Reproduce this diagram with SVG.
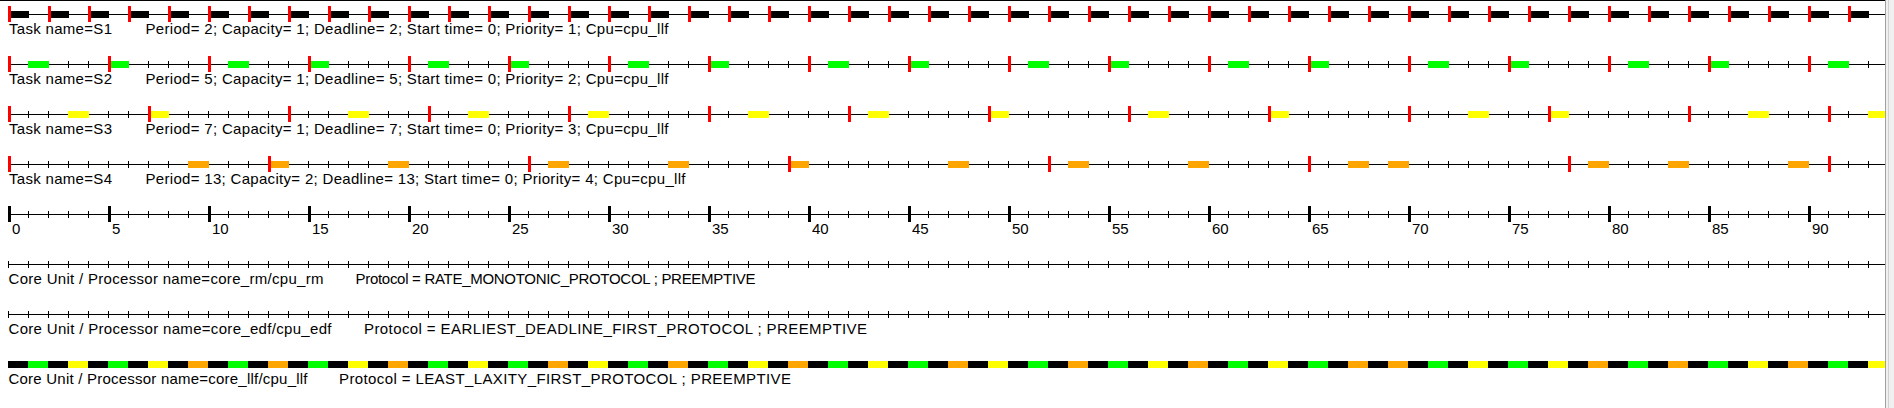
<svg xmlns="http://www.w3.org/2000/svg" width="1894" height="408" viewBox="0 0 1894 408">
<style>
.ln{stroke:#000;stroke-width:1}
.tk{stroke:#000;stroke-width:7;stroke-dasharray:1 19}
.rel{stroke:#f00;stroke-width:16}
.bx{stroke-width:7;fill:none}
.blk{stroke:#000}
.grn{stroke:#0f0}
.yel{stroke:#ff0}
.org{stroke:#ffa500}
.t{font-family:"Liberation Sans",Arial,sans-serif;font-size:15px;fill:#000}
</style>
<rect x="0" y="0" width="1894" height="408" fill="#fff"/>
<line x1="0" y1="0.5" x2="1885" y2="0.5" class="ln"/>
<g id="task-S1">
<line x1="8" y1="14.5" x2="1885" y2="14.5" class="ln"/>
<line x1="8" y1="14.5" x2="1885" y2="14.5" class="tk"/>
<line x1="8" y1="14.5" x2="1885" y2="14.5" class="bx blk" stroke-dasharray="21 19"/>
<line x1="8" y1="14" x2="1885" y2="14" class="rel" stroke-dasharray="3 37"/>
<text x="9" y="34" class="t" textLength="103" lengthAdjust="spacing">Task name=S1</text>
<text x="145.5" y="34" class="t" textLength="523" lengthAdjust="spacing">Period= 2; Capacity= 1; Deadline= 2; Start time= 0; Priority= 1; Cpu=cpu_llf</text>
</g>
<g id="task-S2">
<line x1="8" y1="64.5" x2="1885" y2="64.5" class="ln"/>
<line x1="8" y1="64.5" x2="1885" y2="64.5" class="tk"/>
<path class="bx grn" d="M28 64.5h21M108 64.5h21M228 64.5h21M308 64.5h21M428 64.5h21M508 64.5h21M628 64.5h21M708 64.5h21M828 64.5h21M908 64.5h21M1028 64.5h21M1108 64.5h21M1228 64.5h21M1308 64.5h21M1428 64.5h21M1508 64.5h21M1628 64.5h21M1708 64.5h21M1828 64.5h21"/>
<line x1="8" y1="64" x2="1885" y2="64" class="rel" stroke-dasharray="3 97"/>
<text x="9" y="84" class="t" textLength="103" lengthAdjust="spacing">Task name=S2</text>
<text x="145.5" y="84" class="t" textLength="523" lengthAdjust="spacing">Period= 5; Capacity= 1; Deadline= 5; Start time= 0; Priority= 2; Cpu=cpu_llf</text>
</g>
<g id="task-S3">
<line x1="8" y1="114.5" x2="1885" y2="114.5" class="ln"/>
<line x1="8" y1="114.5" x2="1885" y2="114.5" class="tk"/>
<path class="bx yel" d="M68 114.5h21M148 114.5h21M348 114.5h21M468 114.5h21M588 114.5h21M748 114.5h21M868 114.5h21M988 114.5h21M1148 114.5h21M1268 114.5h21M1468 114.5h21M1548 114.5h21M1748 114.5h21M1868 114.5h17"/>
<line x1="8" y1="114" x2="1885" y2="114" class="rel" stroke-dasharray="3 137"/>
<text x="9" y="134" class="t" textLength="103" lengthAdjust="spacing">Task name=S3</text>
<text x="145.5" y="134" class="t" textLength="523" lengthAdjust="spacing">Period= 7; Capacity= 1; Deadline= 7; Start time= 0; Priority= 3; Cpu=cpu_llf</text>
</g>
<g id="task-S4">
<line x1="8" y1="164.5" x2="1885" y2="164.5" class="ln"/>
<line x1="8" y1="164.5" x2="1885" y2="164.5" class="tk"/>
<path class="bx org" d="M188 164.5h21M268 164.5h21M388 164.5h21M548 164.5h21M668 164.5h21M788 164.5h21M948 164.5h21M1068 164.5h21M1188 164.5h21M1348 164.5h21M1388 164.5h21M1588 164.5h21M1668 164.5h21M1788 164.5h21"/>
<line x1="8" y1="164" x2="1885" y2="164" class="rel" stroke-dasharray="3 257"/>
<text x="9" y="184" class="t" textLength="103" lengthAdjust="spacing">Task name=S4</text>
<text x="145.5" y="184" class="t" textLength="540" lengthAdjust="spacing">Period= 13; Capacity= 2; Deadline= 13; Start time= 0; Priority= 4; Cpu=cpu_llf</text>
</g>
<g id="time-axis">
<line x1="8" y1="214.5" x2="1885" y2="214.5" class="ln"/>
<line x1="8" y1="214.5" x2="1885" y2="214.5" class="tk"/>
<line x1="8" y1="214" x2="1885" y2="214" stroke="#000" stroke-width="16" stroke-dasharray="3 97"/>
<g class="t">
<text x="12" y="234">0</text><text x="112" y="234">5</text><text x="212" y="234">10</text><text x="312" y="234">15</text><text x="412" y="234">20</text><text x="512" y="234">25</text><text x="612" y="234">30</text><text x="712" y="234">35</text><text x="812" y="234">40</text><text x="912" y="234">45</text><text x="1012" y="234">50</text><text x="1112" y="234">55</text><text x="1212" y="234">60</text><text x="1312" y="234">65</text><text x="1412" y="234">70</text><text x="1512" y="234">75</text><text x="1612" y="234">80</text><text x="1712" y="234">85</text><text x="1812" y="234">90</text>
</g>
</g>
<g id="core-rm">
<line x1="8" y1="264.5" x2="1885" y2="264.5" class="ln"/>
<line x1="8" y1="264.5" x2="1885" y2="264.5" class="tk"/>
<text x="8.5" y="284" class="t" textLength="315" lengthAdjust="spacing">Core Unit / Processor name=core_rm/cpu_rm</text>
<text x="355.5" y="284" class="t" textLength="400" lengthAdjust="spacing">Protocol = RATE_MONOTONIC_PROTOCOL ; PREEMPTIVE</text>
</g>
<g id="core-edf">
<line x1="8" y1="314.5" x2="1885" y2="314.5" class="ln"/>
<line x1="8" y1="314.5" x2="1885" y2="314.5" class="tk"/>
<text x="8.5" y="334" class="t" textLength="323" lengthAdjust="spacing">Core Unit / Processor name=core_edf/cpu_edf</text>
<text x="364" y="334" class="t" textLength="503" lengthAdjust="spacing">Protocol = EARLIEST_DEADLINE_FIRST_PROTOCOL ; PREEMPTIVE</text>
</g>
<g id="core-llf">
<line x1="8" y1="364.5" x2="1885" y2="364.5" class="bx blk"/>
<path class="bx grn" d="M28 364.5h20M108 364.5h20M228 364.5h20M308 364.5h20M428 364.5h20M508 364.5h20M628 364.5h20M708 364.5h20M828 364.5h20M908 364.5h20M1028 364.5h20M1108 364.5h20M1228 364.5h20M1308 364.5h20M1428 364.5h20M1508 364.5h20M1628 364.5h20M1708 364.5h20M1828 364.5h20"/>
<path class="bx yel" d="M68 364.5h20M148 364.5h20M348 364.5h20M468 364.5h20M588 364.5h20M748 364.5h20M868 364.5h20M988 364.5h20M1148 364.5h20M1268 364.5h20M1468 364.5h20M1548 364.5h20M1748 364.5h20M1868 364.5h17"/>
<path class="bx org" d="M188 364.5h20M268 364.5h20M388 364.5h20M548 364.5h20M668 364.5h20M788 364.5h20M948 364.5h20M1068 364.5h20M1188 364.5h20M1348 364.5h20M1388 364.5h20M1588 364.5h20M1668 364.5h20M1788 364.5h20"/>
<text x="8.5" y="384" class="t" textLength="299" lengthAdjust="spacing">Core Unit / Processor name=core_llf/cpu_llf</text>
<text x="339" y="384" class="t" textLength="452" lengthAdjust="spacing">Protocol = LEAST_LAXITY_FIRST_PROTOCOL ; PREEMPTIVE</text>
</g>
<g id="connectors"/>
<g id="scrollbar">
<rect x="1885" y="0" width="9" height="408" fill="#f0f0f0"/>
<line x1="1885.5" y1="0" x2="1885.5" y2="408" stroke="#a0a0a0"/>
<line x1="1888.5" y1="0" x2="1888.5" y2="408" stroke="#d0d0d0"/>
</g>
</svg>
